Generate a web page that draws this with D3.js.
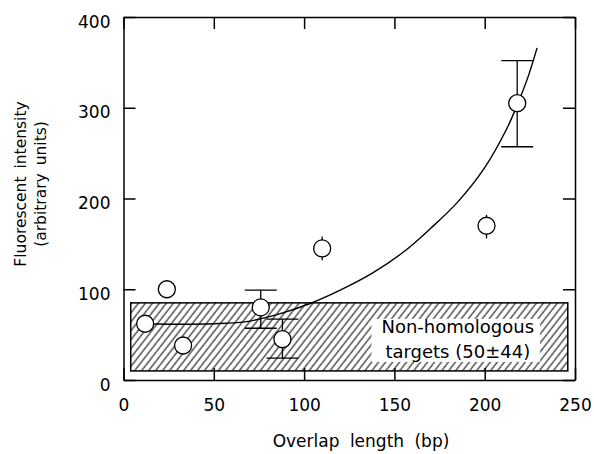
<!DOCTYPE html>
<html>
<head>
<meta charset="utf-8">
<script src="https://cdn.jsdelivr.net/npm/d3@7"></script>
<style>
  html, body { margin: 0; padding: 0; background: #fff; }
  svg { display: block; font-family: "DejaVu Sans", sans-serif; }
</style>
</head>
<body>
<svg id="chart" width="594" height="454"></svg>
<script>

// Points mesurés
const overlap = [12, 24, 33, 76, 88, 110, 201, 218]
const intensity = [62, 100, 38, 80, 45, 145, 170, 305]
const errLow = [null, null, null, 57, 24, 132, 156, 257]
const errHigh = [null, null, null, 99, 67, 158, 182, 352]

// Courbe d'ajustement
const fitX = [12, 30, 50, 67, 85, 103, 120, 138, 155, 170, 185, 200, 212, 218, 224, 229]
const fitY = [62, 61.5, 62, 64, 72, 84, 99, 118, 141, 167, 196, 234, 276, 303, 334, 366]

// Bande des cibles non homologues
const bandX = [4, 246]
const bandY = [10, 85]
const bandLabel = ["Non-homologous", "targets (50±44)"]

const xTicks = [0, 50, 100, 150, 200, 250]
const yTicks = [0, 100, 200, 300, 400]

const margin = {top: 17, right: 19, bottom: 74, left: 123.5}
const width = 594 - margin.left - margin.right
const height = 454 - margin.top - margin.bottom
const tick = 12

const svg = d3.select("#chart")
const g = svg.append("g")
  .attr("transform", "translate(" + margin.left + "," + margin.top + ")")

const x = d3.scaleLinear().domain([0, 250]).range([0, width])
const y = d3.scaleLinear().domain([0, 400]).range([height, 0])

const points = overlap.map((d, i) => ({x: d, y: intensity[i], lo: errLow[i], hi: errHigh[i]}))
const fit = fitX.map((d, i) => ({x: d, y: fitY[i]}))

/* Hachures
-------------------------------------------------------------------------------------------------*/
svg.append("defs").append("pattern")
  .attr("id", "hatch")
  .attr("patternUnits", "userSpaceOnUse")
  .attr("width", 5.5)
  .attr("height", 10)
  .attr("patternTransform", "rotate(38)")
  .append("line")
  .attr("x1", 1).attr("x2", 1)
  .attr("y1", 0).attr("y2", 10)
  .style("stroke", "#000")
  .style("stroke-width", 1)

g.append("rect")
  .attr("x", x(bandX[0]))
  .attr("width", x(bandX[1]) - x(bandX[0]))
  .attr("y", y(bandY[1]))
  .attr("height", y(bandY[0]) - y(bandY[1]))
  .style("fill", "url(#hatch)")
  .style("stroke", "#000")
  .style("stroke-width", 1.5)

// Etiquette sur fond blanc
const labelX = x(bandX[1]) - 110
const labelY = y(bandY[1]) + 30
const label = g.append("g")

const labelBg = label.append("rect").style("fill", "#fff")

const labelText = label.append("text")
  .attr("text-anchor", "middle")
  .style("font-size", "18px")

labelText.selectAll("tspan")
  .data(bandLabel)
  .enter()
  .append("tspan")
  .attr("x", labelX)
  .attr("y", (d, i) => labelY + i * 25)
  .text(d => d)

const bb = labelText.node().getBBox()
labelBg
  .attr("x", bb.x - 10)
  .attr("y", bb.y + 3)
  .attr("width", bb.width + 16)
  .attr("height", y(bandY[0]) - bb.y - 12)

/* Courbe
-------------------------------------------------------------------------------------------------*/
g.append("path")
  .datum(fit)
  .style("fill", "none")
  .style("stroke", "#000")
  .style("stroke-width", 1.4)
  .attr("d", d3.line().x(d => x(d.x)).y(d => y(d.y)).curve(d3.curveCatmullRom.alpha(0.5)))

/* Barres d'erreur
-------------------------------------------------------------------------------------------------*/
const withErr = points.filter(d => d.lo !== null)
const capW = 16

const err = g.append("g")
  .style("stroke", "#000")
  .style("stroke-width", 1.3)

err.selectAll(".err")
  .data(withErr)
  .enter()
  .append("line")
  .attr("x1", d => x(d.x)).attr("x2", d => x(d.x))
  .attr("y1", d => y(d.lo)).attr("y2", d => y(d.hi))

// Chapeaux uniquement pour les grandes barres
const capped = withErr.filter(d => d.hi - d.lo > 30)
capped.forEach(d => {
  [d.lo, d.hi].forEach(v => {
    err.append("line")
      .attr("x1", x(d.x) - capW).attr("x2", x(d.x) + capW)
      .attr("y1", y(v)).attr("y2", y(v))
  })
})

/* Points
-------------------------------------------------------------------------------------------------*/
g.append("g")
  .selectAll("circle")
  .data(points)
  .enter()
  .append("circle")
  .attr("cx", d => x(d.x))
  .attr("cy", d => y(d.y))
  .attr("r", 8.5)
  .style("fill", "#fff")
  .style("stroke", "#000")
  .style("stroke-width", 1.3)

/* Axes (graduations intérieures sur les quatre côtés)
-------------------------------------------------------------------------------------------------*/
const styleAxis = sel => {
  sel.selectAll("path, line").style("stroke", "#000").style("stroke-width", 1.5)
  sel.selectAll("text").style("font-size", "17px").style("font-family", "DejaVu Sans").style("fill", "#000")
}

g.append("g")
  .attr("transform", "translate(0," + height + ")")
  .call(d3.axisBottom(x).tickValues(xTicks).tickSizeInner(-tick).tickSizeOuter(0).tickPadding(19))
  .call(styleAxis)

g.append("g")
  .call(d3.axisTop(x).tickValues(xTicks).tickSizeInner(-tick).tickSizeOuter(0).tickFormat(""))
  .call(styleAxis)

g.append("g")
  .call(d3.axisLeft(y).tickValues(yTicks).tickSizeInner(-tick).tickSizeOuter(0).tickPadding(13))
  .call(styleAxis)
  .selectAll("text").attr("dy", "0.6em")

g.append("g")
  .attr("transform", "translate(" + width + ",0)")
  .call(d3.axisRight(y).tickValues(yTicks).tickSizeInner(-tick).tickSizeOuter(0).tickFormat(""))
  .call(styleAxis)

/* Titres
-------------------------------------------------------------------------------------------------*/
svg.append("text")
  .attr("x", 361)
  .attr("y", 447)
  .attr("text-anchor", "middle")
  .style("font-size", "17px")
  .style("word-spacing", "5px")
  .text("Overlap length (bp)")

const yTitle = ["Fluorescent intensity", "(arbitrary units)"]
yTitle.forEach((t, i) => {
  svg.append("text")
    .attr("transform", "translate(" + (26 + i * 20) + ",184) rotate(-90)")
    .attr("text-anchor", "middle")
    .style("font-size", "15.5px")
    .style("word-spacing", "3px")
    .text(t)
})

</script>
</body>
</html>
